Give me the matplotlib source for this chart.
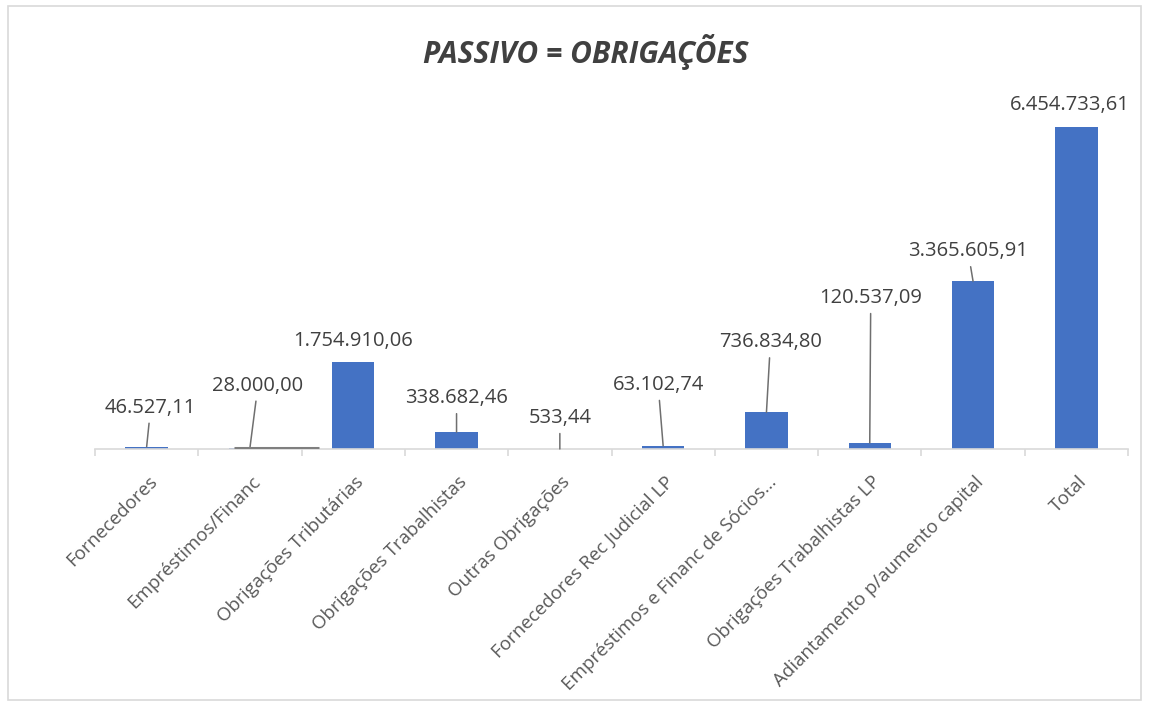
import matplotlib
matplotlib.use('Agg')
import matplotlib.pyplot as plt
from matplotlib.patches import Rectangle

plt.rcParams['font.family'] = ['Open Sans', 'DejaVu Sans']

categories = [
    'Fornecedores',
    'Empréstimos/Financ',
    'Obrigações Tributárias',
    'Obrigações Trabalhistas',
    'Outras Obrigações',
    'Fornecedores Rec Judicial LP',
    'Empréstimos e Financ de Sócios...',
    'Obrigações Trabalhistas LP',
    'Adiantamento p/aumento capital',
    'Total',
]
values = [46527.11, 28000.00, 1754910.06, 338682.46, 533.44,
          63102.74, 736834.80, 120537.09, 3365605.91, 6454733.61]

# label offsets in pixels from bar top, and whether a leader line is drawn
label_offsets = [(4, 39), (8, 62), (0, 21), (0, 34), (0, 31),
                 (-5, 61), (4, 70), (1, 145), (-5, 30), (-7, 22)]
leaders = [True, True, False, True, True, True, True, True, True, False]

def fmt_br(v):
    s = f"{v:,.2f}"
    return s.replace(',', 'X').replace('.', ',').replace('X', '.')

bar_color = '#4472C4'
text_color = '#404040'

fig = plt.figure(figsize=(11.5, 7.06), dpi=100)
ax = fig.add_axes([95 / 1150, (706 - 449) / 706, (1128 - 95) / 1150, 349 / 706])

x = list(range(len(categories)))
ax.bar(x, values, width=0.41, color=bar_color, zorder=2)
ax.set_xlim(-0.5, len(categories) - 0.5)
ax.set_ylim(0, 7000000)

for i, v in enumerate(values):
    dx, dy = label_offsets[i]
    props = dict(arrowstyle='-', color='#6f6f6f', lw=1.1, shrinkA=2, shrinkB=0) if leaders[i] else None
    ax.annotate(fmt_br(v), xy=(i, v), xytext=(dx, dy), textcoords='offset pixels',
                ha='center', va='center', fontsize=14.5, color=text_color,
                arrowprops=props, zorder=3)

# leader foot under the Empréstimos/Financ label
ax.hlines(values[1], 1 - 0.15, 1 + 0.67, color='#7f7f7f', lw=2.2, zorder=3)

for side in ['top', 'right', 'left']:
    ax.spines[side].set_visible(False)
ax.spines['bottom'].set_color('#d9d9d9')
ax.spines['bottom'].set_linewidth(1.2)
ax.set_yticks([])

ax.set_xticks([i + 0.01 for i in x])
ax.set_xticklabels(categories, rotation=45, ha='right', rotation_mode='anchor',
                   fontsize=13.5, color='#595959')
ax.tick_params(axis='x', length=0, pad=17)
ax.set_xticks([i - 0.5 for i in range(len(categories) + 1)], minor=True)
ax.tick_params(axis='x', which='minor', length=5, color='#d9d9d9', width=1.2)

fig.text(586 / 1150, 1 - 52 / 706, 'PASSIVO = OBRIGAÇÕES', ha='center', va='center',
         fontsize=21.5, fontweight='bold', fontstyle='italic', color=text_color)

fig.patches.append(Rectangle((8 / 1150, 6 / 706), (1141 - 8) / 1150, (700 - 6) / 706,
                             transform=fig.transFigure, fill=False,
                             edgecolor='#d9d9d9', lw=1.2))

fig.savefig('out.png', dpi=100)
